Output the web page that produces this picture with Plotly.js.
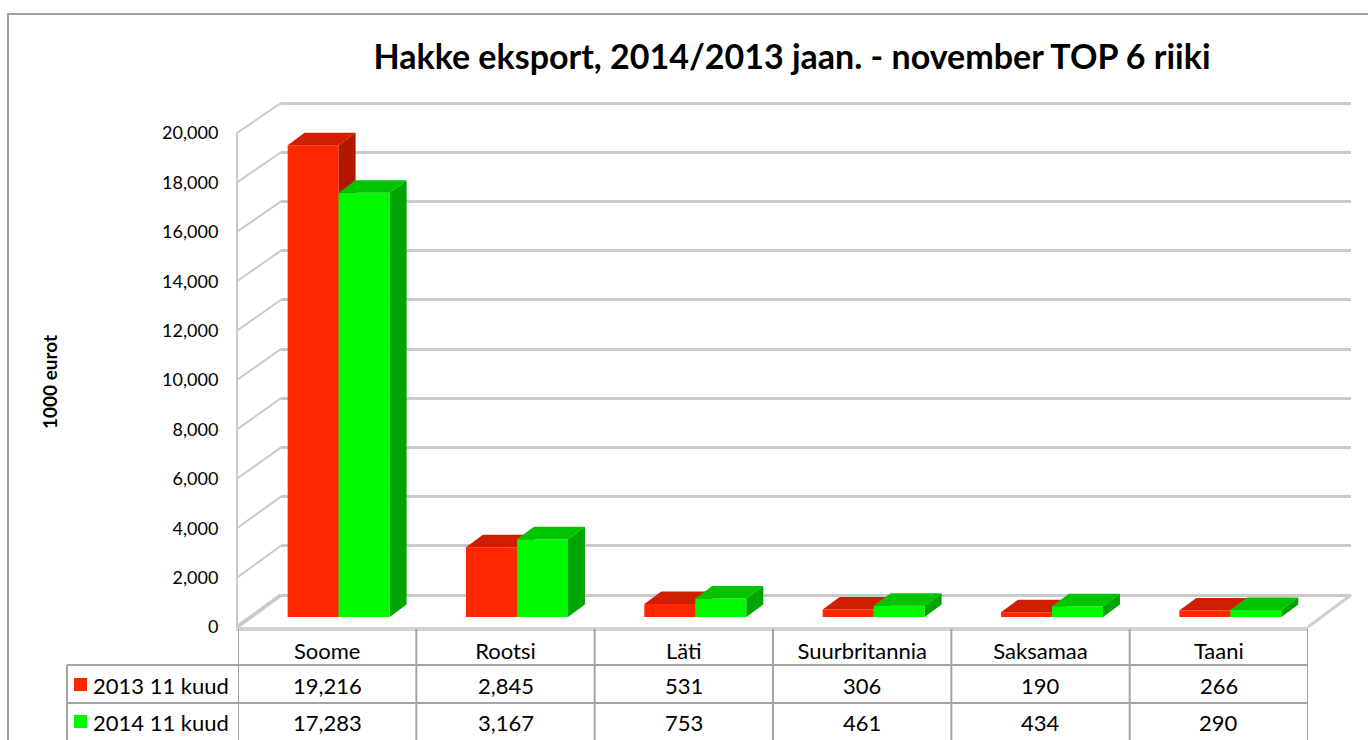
<!DOCTYPE html>
<html>
<head>
<meta charset="utf-8">
<script src="https://cdn.plot.ly/plotly-3.0.1.min.js"></script>
<style>html,body{margin:0;padding:0;background:#fff;}#chart{width:1368px;height:740px;}</style>
</head>
<body>
<div id="chart"></div>
<script>
// ---- data ----
const categories = ['Soome', 'Rootsi', 'Läti', 'Suurbritannia', 'Saksamaa', 'Taani'];
const seriesNames = ['2013 11 kuud', '2014 11 kuud'];
const values2013 = [19216, 2845, 531, 306, 190, 266];
const values2014 = [17283, 3167, 753, 461, 434, 290];
const yTickValues = [0, 2000, 4000, 6000, 8000, 10000, 12000, 14000, 16000, 18000, 20000];
const chartTitle = 'Hakke eksport, 2014/2013 jaan. - november TOP 6 riiki';
const yTitle = '1000 eurot';

// ---- layout helpers ----
const W = 1368, H = 740;
const fx = p => p / W;
const fy = p => 1 - p / H;
const FONT = 'Lato, "Open Sans", sans-serif';
const idx = categories.map((c, i) => i);
const colors = {
  red: {front: '#ff2600', top: '#cf1f00', side: '#b01800'},
  green: {front: '#00f800', top: '#00c400', side: '#00a600'}
};
const barW = 0.286;      // bar width in category units
const depthX = 0.095;    // 3d depth, category units
const depthY = 509;      // 3d depth, value units

function faces(vals, x0off) {
  const top = {x: [], y: []}, side = {x: [], y: []};
  vals.forEach((v, i) => {
    const a = i + x0off, b = a + barW;
    top.x.push(a, b, b + depthX, a + depthX, a, null);
    top.y.push(v, v, v + depthY, v + depthY, v, null);
    side.x.push(b, b + depthX, b + depthX, b, b, null);
    side.y.push(0, depthY, v + depthY, v, 0, null);
  });
  return {top, side};
}

function seriesTraces(vals, off, col, xa, ya, name) {
  const f = faces(vals, off);
  return [
    {type: 'bar', x: idx, y: vals, width: barW, offset: off, name: name,
     marker: {color: col.front, line: {width: 0}}, xaxis: xa, yaxis: ya, hoverinfo: 'y'},
    {type: 'scatter', mode: 'lines', x: f.side.x, y: f.side.y, fill: 'toself',
     fillcolor: col.side, line: {width: 0, color: col.side}, xaxis: xa, yaxis: ya, hoverinfo: 'skip', showlegend: false},
    {type: 'scatter', mode: 'lines', x: f.top.x, y: f.top.y, fill: 'toself',
     fillcolor: col.top, line: {width: 0, color: col.top}, xaxis: xa, yaxis: ya, hoverinfo: 'skip', showlegend: false}
  ];
}

// empty helper traces so the front and back-wall subplots exist
const wallTrace = {type: 'scatter', mode: 'lines', x: [], y: [], xaxis: 'x2', yaxis: 'y2', hoverinfo: 'skip', showlegend: false};
const frontTrace = {type: 'scatter', mode: 'lines', x: [], y: [], xaxis: 'x', yaxis: 'y', hoverinfo: 'skip', showlegend: false};

const traces = [frontTrace, wallTrace].concat(
  seriesTraces(values2013, -barW, colors.red, 'x3', 'y3', seriesNames[0]),
  seriesTraces(values2014, 0, colors.green, 'x4', 'y4', seriesNames[1])
);

// geometry (pixels)
const front = {x0: 238, x1: 1308, y0: 627, y1: 133};
const back = {x0: 281, x1: 1351, y0: 595, y1: 103};
const bars = {x0: 249.5, x1: 1319.5, y0: 617, y1: 126};
const yMax = 20000;
const pad = 100;                                   // small value padding so the edge gridlines are kept
const backPad = pad * (back.y0 - back.y1) / yMax;  // same padding in px

const shapes = [];
const gridCol = '#cacaca';
// left wall slanted lines
yTickValues.forEach(v => {
  const yf = front.y0 - (front.y0 - front.y1) * v / yMax;
  const yb = back.y0 - (back.y0 - back.y1) * v / yMax;
  shapes.push({type: 'line', xref: 'paper', yref: 'paper', x0: fx(front.x0 - 1), y0: fy(yf), x1: fx(back.x0), y1: fy(yb),
    line: {color: gridCol, width: v === 0 ? 4 : 2}});
});
// floor right edge
shapes.push({type: 'line', xref: 'paper', yref: 'paper', x0: fx(front.x1), y0: fy(front.y0), x1: fx(back.x1), y1: fy(back.y0),
  line: {color: '#d0d0d0', width: 3}});
// table lines
const tabCol = '#a4a4a4';
for (let k = 0; k <= categories.length; k++) {
  shapes.push({type: 'line', xref: 'x', yref: 'paper', x0: k - 0.5, x1: k - 0.5, y0: fy(629), y1: fy(741),
    line: {color: tabCol, width: 2}});
}
shapes.push({type: 'line', xref: 'paper', yref: 'paper', x0: fx(67), x1: fx(67), y0: fy(665), y1: fy(741), line: {color: tabCol, width: 2}});
[665, 703].forEach(py => shapes.push({type: 'line', xref: 'paper', yref: 'paper', x0: fx(67), x1: fx(front.x1), y0: fy(py), y1: fy(py),
  line: {color: tabCol, width: 2}}));
// legend keys in table
const rowY = [685, 722];
[colors.red.front, colors.green.front].forEach((c, k) => {
  shapes.push({type: 'rect', xref: 'paper', yref: 'paper', x0: fx(74), x1: fx(87), y0: fy(rowY[k] - 7), y1: fy(rowY[k] + 6),
    fillcolor: c, line: {width: 0}});
});
// outer frame
shapes.push({type: 'line', xref: 'paper', yref: 'paper', x0: fx(8), x1: fx(8), y0: fy(741), y1: fy(14), line: {color: '#a0a0a0', width: 2}});
shapes.push({type: 'line', xref: 'paper', yref: 'paper', x0: fx(7), x1: fx(1369), y0: fy(14), y1: fy(14), line: {color: '#a0a0a0', width: 2}});

const annotations = [];
const fmt = v => v.toLocaleString('en-US');
[values2013, values2014].forEach((vals, k) => {
  vals.forEach((v, i) => annotations.push({xref: 'x', yref: 'paper', x: i, y: fy(rowY[k]), text: fmt(v),
    showarrow: false, xanchor: 'center', yanchor: 'middle', font: {family: FONT, size: 22, color: '#000'}}));
  annotations.push({xref: 'paper', yref: 'paper', x: fx(91), y: fy(rowY[k]), text: seriesNames[k], showarrow: false,
    xanchor: 'left', yanchor: 'middle', font: {family: FONT, size: 22, color: '#000'}});
});
annotations.push({xref: 'paper', yref: 'paper', x: fx(50), y: fy(382), text: '<b>' + yTitle + '</b>', textangle: -90,
  showarrow: false, xanchor: 'center', yanchor: 'middle', font: {family: FONT, size: 19, color: '#000'}});

const blankAxis = {showgrid: false, zeroline: false, showline: false, showticklabels: false, ticks: '', fixedrange: true};
const hidden = {visible: false, fixedrange: true};
const layout = {
  width: W, height: H,
  margin: {l: 0, r: 0, t: 0, b: 0},
  paper_bgcolor: '#ffffff', plot_bgcolor: 'rgba(0,0,0,0)',
  showlegend: false,
  barmode: 'overlay',
  title: {text: '<b>' + chartTitle + '</b>', x: fx(792), xanchor: 'center', xref: 'paper', y: fy(57), yanchor: 'middle', yref: 'paper',
    font: {family: FONT, size: 34, color: '#000'}},
  xaxis: {domain: [fx(front.x0), fx(front.x1)], range: [-0.5, 5.5], tickvals: idx, ticktext: categories,
    showgrid: false, zeroline: false, showline: true, linecolor: '#d3d3d3', linewidth: 4, ticks: '',
    tickfont: {family: FONT, size: 22, color: '#000'}, anchor: 'y', fixedrange: true, ticklabelstandoff: 2},
  yaxis: {domain: [fy(front.y0), fy(front.y1)], range: [0, yMax], tickvals: yTickValues, tickformat: ',d',
    showgrid: false, zeroline: false, showline: true, linecolor: gridCol, linewidth: 2, ticks: '',
    tickfont: {family: FONT, size: 18, color: '#000'}, anchor: 'x', fixedrange: true, ticklabelstandoff: 14},
  xaxis2: Object.assign({domain: [fx(back.x0), fx(back.x1)], range: [-0.5, 5.5], anchor: 'y2'}, blankAxis),
  yaxis2: {domain: [fy(back.y0 + backPad), fy(back.y1 - backPad)], range: [-pad, yMax + pad], anchor: 'x2', tickvals: yTickValues,
    showgrid: true, gridcolor: gridCol, gridwidth: 3, zeroline: false, showline: false, showticklabels: false, ticks: '', fixedrange: true},
  xaxis3: Object.assign({domain: [fx(bars.x0), fx(bars.x1)], range: [-0.5, 5.5], anchor: 'y3'}, hidden),
  yaxis3: Object.assign({domain: [fy(bars.y0), fy(bars.y1)], range: [0, yMax], anchor: 'x3'}, hidden),
  xaxis4: Object.assign({domain: [fx(bars.x0), fx(bars.x1)], range: [-0.5, 5.5], anchor: 'y4'}, hidden),
  yaxis4: Object.assign({domain: [fy(bars.y0), fy(bars.y1)], range: [0, yMax], anchor: 'x4'}, hidden),
  shapes: shapes,
  annotations: annotations
};

Plotly.newPlot('chart', traces, layout, {displayModeBar: false, staticPlot: true});
</script>
</body>
</html>
